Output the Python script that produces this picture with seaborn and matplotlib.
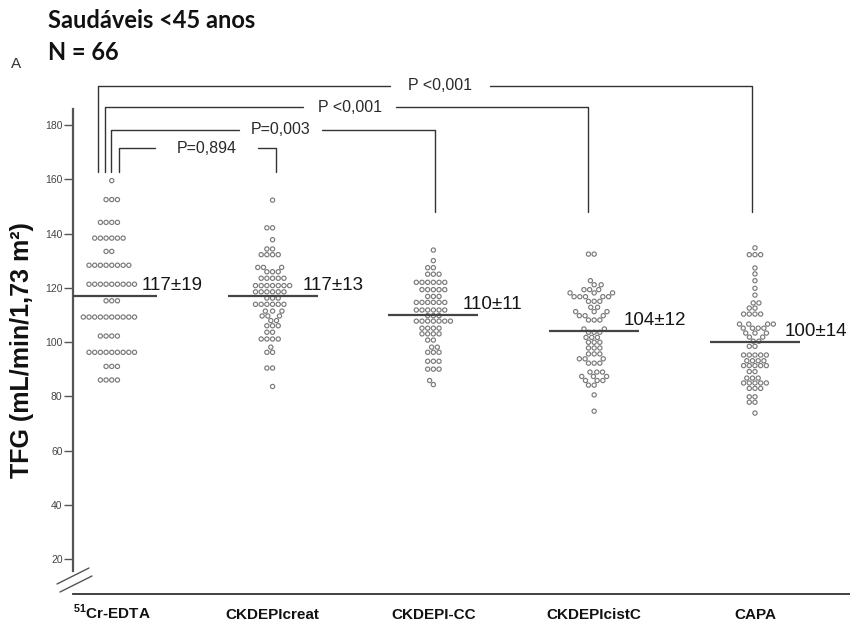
import numpy as np
import pandas as pd
import matplotlib
matplotlib.use("Agg")
import matplotlib.pyplot as plt
import seaborn as sns

# ---- data (mL/min/1,73 m²) ----
methods = ["51Cr-EDTA", "CKDEPIcreat", "CKDEPI-CC", "CKDEPIcistC", "CAPA"]
tick_labels = [r"$^{\mathbf{51}}$Cr-EDTA", "CKDEPIcreat", "CKDEPI-CC", "CKDEPIcistC", "CAPA"]

cr_edta = [159.5,
           152.5, 152.5, 152.5,
           144.1, 144.1, 144.1, 144.1,
           138.3, 138.3, 138.3, 138.3, 138.3, 138.3,
           133.4, 133.4,
           128.3, 128.3, 128.3, 128.3, 128.3, 128.3, 128.3, 128.3,
           121.3, 121.3, 121.3, 121.3, 121.3, 121.3, 121.3, 121.3, 121.3,
           115.2, 115.2, 115.2,
           109.2, 109.2, 109.2, 109.2, 109.2, 109.2, 109.2, 109.2, 109.2, 109.2,
           102.2, 102.2, 102.2, 102.2,
           96.2, 96.2, 96.2, 96.2, 96.2, 96.2, 96.2, 96.2, 96.2,
           91.0, 91.0, 91.0,
           86.0, 86.0, 86.0, 86.0]

ckd_creat = [152.3,
             142.1, 142.1,
             137.7,
             134.3, 134.3,
             132.2, 132.2, 132.2, 132.2,
             127.5, 127.5, 127.5,
             125.9, 125.9, 125.9,
             123.5, 123.5, 123.5, 123.5, 123.5,
             120.8, 120.8, 120.8, 120.8, 120.8, 120.8, 120.8,
             118.5, 118.5, 118.5, 118.5, 118.5, 118.5,
             116.2, 116.2, 116.2,
             113.9, 113.9, 113.9, 113.9, 113.9, 113.9,
             111.4, 111.4, 111.4,
             109.6, 109.6, 109.6,
             107.9, 107.9,
             106.0, 106.0, 106.0,
             103.6, 103.6,
             101.1, 101.1, 101.1, 101.1,
             98.1,
             96.2, 96.2,
             90.4, 90.4,
             83.6]

ckd_cc = [133.9,
          130.0,
          127.4, 127.4,
          125.0, 125.0, 125.0,
          122.0, 122.0, 122.0, 122.0, 122.0, 122.0,
          119.3, 119.3, 119.3, 119.3, 119.3,
          116.8, 116.8, 116.8,
          114.6, 114.6, 114.6, 114.6, 114.6, 114.6,
          111.8, 111.8, 111.8, 111.8, 111.8, 111.8,
          109.7, 109.7, 109.7,
          107.7, 107.7, 107.7, 107.7, 107.7, 107.7, 107.7,
          105.1, 105.1, 105.1, 105.1,
          103.0, 103.0, 103.0, 103.0,
          100.7, 100.7,
          98.1, 98.1,
          96.2, 96.2, 96.2,
          92.9, 92.9, 92.9,
          90.0, 90.0, 90.0,
          85.8,
          84.3]

ckd_cistc = [132.4, 132.4,
             122.6,
             121.1, 121.1,
             119.3, 119.3, 119.3,
             118.1, 118.1, 118.1,
             116.7, 116.7, 116.7, 116.7, 116.7,
             115.0, 115.0, 115.0,
             112.8, 112.8,
             111.2, 111.2, 111.2,
             109.7, 109.7, 109.7,
             108.1, 108.1, 108.1,
             104.8, 104.8,
             103.6, 103.6, 103.6,
             101.7, 101.7, 101.7,
             99.9, 99.9, 99.9,
             97.8, 97.8, 97.8,
             95.6, 95.6, 95.6,
             93.8, 93.8, 93.8,
             92.2, 92.2, 92.2,
             88.9, 88.9, 88.9,
             87.3, 87.3, 87.3,
             85.8, 85.8, 85.8,
             84.1, 84.1,
             80.5,
             74.5]

capa = [134.7,
        132.2, 132.2, 132.2,
        127.3,
        125.1,
        122.6,
        119.8,
        117.3,
        114.4, 114.4,
        112.5, 112.5,
        110.3, 110.3, 110.3, 110.3,
        106.6, 106.6, 106.6, 106.6,
        105.1, 105.1, 105.1, 105.1,
        103.3, 103.3, 103.3,
        101.8, 101.8,
        100.3, 100.3,
        98.4, 98.4,
        95.2, 95.2, 95.2, 95.2, 95.2,
        93.1, 93.1, 93.1, 93.1,
        91.3, 91.3, 91.3, 91.3, 91.3,
        89.1, 89.1,
        86.7, 86.7, 86.7,
        84.9, 84.9, 84.9, 84.9, 84.9,
        82.9, 82.9, 82.9,
        79.8, 79.8,
        77.8, 77.8,
        73.8]

means = [117, 117, 110, 104, 100]
sds = [19, 13, 11, 12, 14]

# pairwise comparisons against the reference method
cmp_pairs = [(0, 4), (0, 3), (0, 2), (0, 1)]
cmp_text = ["P <0,001", "P <0,001", "P=0,003", "P=0,894"]

# ---- bracket layout ----
brk_level = [194.4, 186.6, 178.2, 171.5]
brk_left_dx = [-0.087, -0.044, -0.006, 0.044]
brk_right_dx = [-0.02, -0.04, 0.01, 0.02]
brk_left_end = [162.7, 162.7, 162.7, 162.7]
brk_right_end = [148.0, 148.0, 148.0, 162.7]
brk_text_x = [2.04, 1.48, 1.05, 0.59]
brk_gap = [0.31, 0.29, 0.26, 0.32]

groups = [cr_edta, ckd_creat, ckd_cc, ckd_cistc, capa]
df = pd.DataFrame({
    "metodo": np.concatenate([[m] * len(g) for m, g in zip(methods, groups)]),
    "tfg": np.concatenate(groups),
})

sns.set_style("white")
plt.rcParams["font.family"] = ["Liberation Sans", "DejaVu Sans"]
plt.rcParams["mathtext.fontset"] = "custom"
plt.rcParams["mathtext.rm"] = "Liberation Sans"
plt.rcParams["mathtext.bf"] = "Liberation Sans:bold"

W, H = 850, 628
fig = plt.figure(figsize=(W / 100, H / 100), dpi=100)
ax_left, ax_bottom_px, ax_top_px = 73, 594, 79
ax = fig.add_axes([ax_left / W, 1 - ax_bottom_px / H,
                   1 - ax_left / W, (ax_bottom_px - ax_top_px) / H])

sns.swarmplot(data=df, x="metodo", y="tfg", order=methods, size=3.05,
              color="#7a7a7a", linewidth=0.85, ax=ax, zorder=3)
for coll in ax.collections:
    coll.set_facecolor("none")
    coll.set_edgecolor("#7a7a7a")

# mean lines and mean ± SD labels
for i, (m, s) in enumerate(zip(means, sds)):
    ax.hlines(m, i - 0.28, i + 0.28, color="#444444", lw=1.6, zorder=4)
    ax.text(i + 0.185, m + 3.8, f"{m}±{s}", fontsize=13.5, color="#151515",
            ha="left", va="center", zorder=5)

# comparison brackets
for k, ((a, b), txt) in enumerate(zip(cmp_pairs, cmp_text)):
    xl = a + brk_left_dx[k]
    xr = b + brk_right_dx[k]
    lv = brk_level[k]
    tx = brk_text_x[k]
    g = brk_gap[k]
    kw = dict(color="#333333", lw=1.0, clip_on=False, zorder=4)
    ax.plot([xl, xl, tx - g], [brk_left_end[k], lv, lv], **kw)
    ax.plot([tx + g, xr, xr], [lv, lv, brk_right_end[k]], **kw)
    ax.text(tx, lv, txt, fontsize=11.5, color="#2a2a2a", ha="center",
            va="center", clip_on=False)

ax.set_xlim(-0.241, 4.591)
ax.set_ylim(7.1, 196.96)
ax.set_yticks(np.arange(20, 181, 20))
ax.tick_params(axis="y", direction="out", length=6.5, width=1, color="#555555",
               labelsize=7.5, labelcolor="#444444", pad=1, left=True)
ax.set_xticks(range(len(methods)))
ax.set_xticklabels(tick_labels, fontsize=11, fontweight="bold", color="#111111")
ax.tick_params(axis="x", length=0, pad=18)
for lab in ax.get_xticklabels():
    lab.set_verticalalignment("baseline")
ax.set_xlabel("")
ax.set_ylabel("")

for side in ["top", "right"]:
    ax.spines[side].set_visible(False)
ax.spines["left"].set_bounds(15.5, 186)
ax.spines["left"].set_color("#555555")
ax.spines["left"].set_linewidth(1.6)
ax.spines["bottom"].set_color("#333333")
ax.spines["bottom"].set_linewidth(1.3)

# axis break marks
for (x0, y0, x1, y1) in [(57, 584, 89, 568), (60, 592, 92, 576)]:
    fig.add_artist(plt.Line2D([x0 / W, x1 / W], [1 - y0 / H, 1 - y1 / H],
                              transform=fig.transFigure, color="#555555", lw=1.0))

fig.text(22 / W, 1 - 350 / H, "TFG (mL/min/1,73 m²)", rotation=90, fontsize=18,
         fontweight="bold", ha="center", va="center", color="#111111")

fig.text(48 / W, 1 - 20 / H, "Saudáveis <45 anos", fontsize=17, fontweight="bold",
         family=["Lato", "DejaVu Sans"], ha="left", va="center", color="#111111")
fig.text(48 / W, 1 - 52 / H, "N = 66", fontsize=17, fontweight="bold",
         family=["Lato", "DejaVu Sans"], ha="left", va="center", color="#111111")
fig.text(16 / W, 1 - 64 / H, "A", fontsize=11, color="#333333", ha="center", va="center")

fig.savefig("out.png", dpi=100, facecolor="white")
